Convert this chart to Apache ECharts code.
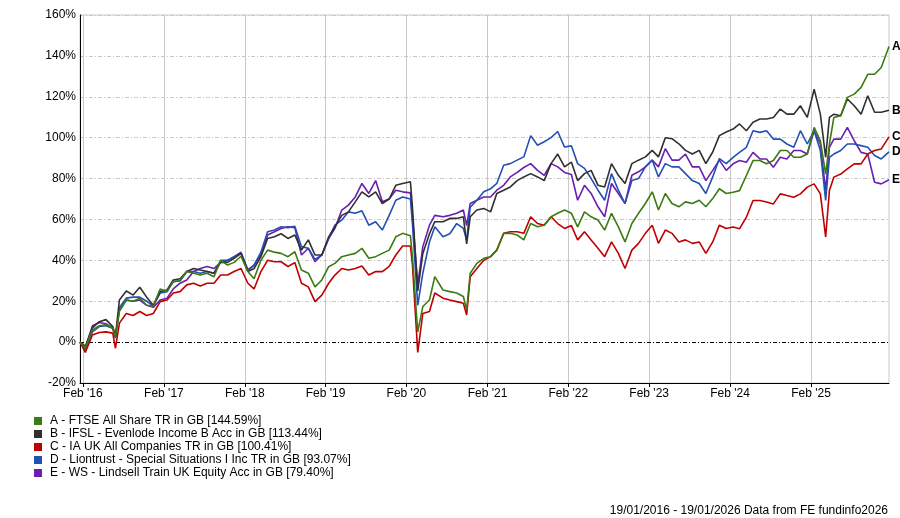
<!DOCTYPE html>
<html>
<head>
<meta charset="utf-8">
<script src="https://cdn.jsdelivr.net/npm/echarts@6/dist/echarts.min.js"></script>
<style>
html,body{margin:0;padding:0;background:#fff;}
#chart{width:900px;height:518px;}
</style>
</head>
<body>
<div id="chart"></div>
<script>
const dates = [
'2016-01-19','2016-02-12','2016-03-15','2016-04-15','2016-05-15','2016-06-15','2016-06-27','2016-07-15','2016-08-15','2016-09-15','2016-10-15','2016-11-15','2016-12-15',
'2017-01-15','2017-02-15','2017-03-15','2017-04-15','2017-05-15','2017-06-15','2017-07-15','2017-08-15','2017-09-15','2017-10-15','2017-11-15','2017-12-15',
'2018-01-15','2018-02-15','2018-03-15','2018-04-15','2018-05-15','2018-06-15','2018-07-15','2018-08-15','2018-09-15','2018-10-15','2018-11-15','2018-12-15',
'2019-01-15','2019-02-15','2019-03-15','2019-04-15','2019-05-15','2019-06-15','2019-07-15','2019-08-15','2019-09-15','2019-10-15','2019-11-15','2019-12-15',
'2020-01-15','2020-02-19','2020-02-28','2020-03-23','2020-04-15','2020-05-15','2020-06-08','2020-07-15','2020-08-15','2020-09-15','2020-10-15','2020-10-30','2020-11-15','2020-12-15',
'2021-01-15','2021-02-15','2021-03-15','2021-04-15','2021-05-15','2021-06-15','2021-07-15','2021-08-15','2021-09-15','2021-10-15','2021-11-15','2021-12-15',
'2022-01-15','2022-02-15','2022-03-15','2022-04-15','2022-05-15','2022-06-15','2022-07-15','2022-08-15','2022-09-15','2022-10-15','2022-11-15','2022-12-15',
'2023-01-15','2023-02-15','2023-03-15','2023-04-15','2023-05-15','2023-06-15','2023-07-15','2023-08-15','2023-09-15','2023-10-15','2023-11-15','2023-12-15',
'2024-01-15','2024-02-15','2024-03-15','2024-04-15','2024-05-15','2024-06-15','2024-07-15','2024-08-15','2024-09-15','2024-10-15','2024-11-15','2024-12-15',
'2025-01-15','2025-02-15','2025-03-15','2025-04-08','2025-04-25','2025-05-15','2025-06-15','2025-07-15','2025-08-15','2025-09-15','2025-10-15','2025-11-15','2025-12-15',
'2026-01-19'
];

// A - FTSE All Share TR
const seriesA = [
0,-3,6,8,8.5,6.8,2.7,15,20.6,20,21.5,18,17.7,
26,24.7,29.6,30,34.5,33.7,32.8,33.7,32,40,37.7,39,
42,34.5,31,40,45,44,43.4,41.8,44.2,35.3,33.7,27,
30.4,36.9,38.5,41.8,42.6,43.4,45.9,41,41.8,43.4,45,51.5,
53.2,52,42,5,17.4,20.6,32,25.5,24.7,24,22.3,15.8,33.7,38.5,
41,41.8,45,53.2,53.2,52.4,50,58,56.4,57.2,61.3,63,
64.6,63,56.4,63.7,61.3,59.7,54.8,63,56.4,49,58,63,
67.8,73.5,64.6,72.7,67.8,66.2,68.6,67.8,69.4,66.2,70.2,75,
72.7,73.3,74.1,81.5,88.8,88.8,87.2,88.8,93.7,93.7,90.4,90.4,
92,105,98.5,82.2,96.9,109.9,110.7,119.7,121.3,124.6,131,131,134.3,
144.59
];
// B - IFSL Evenlode Income B Acc
const seriesB = [
0,-2,7,10,11,7.6,3,20.6,25,23,26.8,22,18,
24.7,25.5,30.4,31,34.5,36,35.3,34.5,33.7,39,39,41,
43.4,34.5,36,41.8,50.7,51.5,53,50.7,52.4,45,50,42.6,
42.6,51.5,56.4,62,63.7,68.6,73.5,71,73.5,67.8,70,76.7,
77.6,78.4,66,25,43.4,53,58.9,58.9,60.5,60.5,61.3,48,61.3,64.6,
65.4,63.7,72.7,74.3,75.9,79,80.8,82.4,80.8,79,87.3,92,
85.7,88,79,82.4,84,76.7,75.9,87.3,81.6,77.6,87.3,89,
90.6,93.8,90.6,100,99.5,97,93.8,92,93.8,87.3,93,101,
102.8,104.2,106.7,103.4,107.5,109.1,109.1,109.9,114,111.5,111.5,115.6,
109.9,123.7,111.5,90.4,109.9,111.5,110.7,118.9,115.6,111.5,120.5,112.4,112.4,
113.44
];
// C - IA UK All Companies TR
const seriesC = [
0,-5,3.5,4.7,5,4.4,-3,9.3,14,13,15,13,14,
19.8,20.6,24,24.7,28,28.8,27.5,28.8,28.8,32.8,32.8,34.5,
36,28.8,26,34.5,40,39.3,39.3,37,38.9,28.8,27,19.8,
23,28.8,32.8,36,35.3,36,37.2,32.8,34.5,34.5,37,42.6,
47,47,38,-5,14,15,24,21.5,20.6,19.8,19,13.3,32,36,
40,41.8,45,53.2,54,54,53.2,61.3,58,57.2,61.3,58,
55.6,57,50,54,50,45.9,41.8,49,43.4,36,45,48.3,
53.2,57.2,48.3,54.8,53.2,49,50,48.3,49,43.4,49,57.2,
55.6,56.3,55.4,61.1,69.3,69.3,68.5,67.6,72.5,71.7,70.9,72.5,
75.8,77.4,72.5,51.4,74.1,80.7,82.2,84.7,87.2,87.2,92,93.7,94.5,
100.41
];
// D - Liontrust Special Situations I Inc TR
const seriesD = [
0,-4,5,7.6,8,6.8,2,17,21.5,22,22,20,17.7,
24,24.7,29.6,30,34.5,34.5,33.7,34.5,33.7,40,40,41.8,
44,35,37.7,44,54,54.8,56.4,56,56.7,46.7,45.9,40.5,
42.6,50.7,57.2,59.7,63.7,63,64.2,57.2,58.9,54.8,62,69.4,
71,70,58,18,33.7,49,56.4,51.5,53,58,55.6,50,66,69.4,
73.5,75,77.6,86.5,87.3,89,90.6,101,96.3,98,100,103,
95.4,96,87.3,85,80,74.3,69.4,82.4,74.3,67.8,79,80,
85.7,89,80.8,87.3,85.7,85.7,82.4,79,77.6,72.7,80.8,89.8,
87.3,90.4,92.8,95.3,103.4,102.6,103.4,99.3,99.3,96.9,95.3,103.4,
96.9,103.4,93.7,69.3,90.4,92,93.7,96.9,96.9,96.1,95.3,91.3,89.6,
93.07
];
// E - WS Lindsell Train UK Equity Acc
const seriesE = [
0,-3,8,9.6,9,6.8,2.5,15.8,20.6,20,20.6,18,17,
20.6,21.5,26,28.8,30.4,34.5,36,37,36,39,40,41.8,
43.4,35.5,37.7,42.6,52.4,54,55.6,56.4,56,42.6,45.9,39.3,
42.6,50.7,55.6,64.6,67,71,77.6,72.7,79,68.6,70,74.3,
73.5,73,62,28,46.7,57.2,62,61.3,62,63,64.6,57,67.8,69.4,
71,71,74.3,76.7,80.8,83,85.4,87.3,84,81.6,87.3,85.7,
83,82,69.4,76.7,72.7,66.2,61.3,77.6,72.7,67.8,81.6,83.3,
85.7,89,85.7,94.6,89,89,92,85.7,85.7,79,84,89,
84,87.2,88.8,88,92.8,89.6,89.6,85.5,90.4,89.6,93.7,93.7,
92,103.4,96.9,74.1,95.3,99.3,99.3,105,98.5,92.8,92,78.2,77.4,
79.40
];

const seriesNames = [
'A - FTSE All Share TR in GB [144.59%]',
'B - IFSL - Evenlode Income B Acc in GB [113.44%]',
'C - IA UK All Companies TR in GB [100.41%]',
'D - Liontrust - Special Situations I Inc TR in GB [93.07%]',
'E - WS - Lindsell Train UK Equity Acc in GB [79.40%]'
];
const endLetters = ['A','B','C','D','E'];
const seriesColors = ['#3d7a14','#303030','#c00000','#2450b4','#6a1fb0'];

const tickYears = [2016,2017,2018,2019,2020,2021,2022,2023,2024,2025];
const tickLabels = ["Feb '16","Feb '17","Feb '18","Feb '19","Feb '20","Feb '21","Feb '22","Feb '23","Feb '24","Feb '25"];
const rangeStart = '2016-01-19';
const rangeEnd = '2026-01-19';
const footerText = '19/01/2016 - 19/01/2026 Data from FE fundinfo2026';

function ts(s) { const p = s.split('-').map(Number); return Date.UTC(p[0], p[1] - 1, p[2]); }
const tickValues = tickYears.map(y => Date.UTC(y, 1, 1));
const allValues = [seriesA, seriesB, seriesC, seriesD, seriesE];
const FONT = 'Liberation Sans, Arial, sans-serif';

const chart = echarts.init(document.getElementById('chart'), null, {renderer:'canvas'});

const series = allValues.map((vals, i) => ({
  name: seriesNames[i],
  type: 'line',
  data: dates.map((d, j) => [ts(d), vals[j]]),
  showSymbol: false,
  symbol: 'none',
  z: 10 - i,
  lineStyle: {width: 1.6, color: seriesColors[i]},
  itemStyle: {color: seriesColors[i]},
  emphasis: {disabled: true},
  endLabel: {
    show: true,
    formatter: endLetters[i],
    color: '#000',
    fontWeight: 'bold',
    fontSize: 12,
    fontFamily: FONT,
    distance: 3
  },
  markLine: i === 0 ? {
    silent: true,
    symbol: 'none',
    label: {show: false},
    lineStyle: {color: '#000', type: [4,2,1,2], width: 1},
    data: [{yAxis: 0}],
    z: 1
  } : undefined
}));

chart.setOption({
  animation: false,
  backgroundColor: '#fff',
  title: {
    text: footerText,
    right: 12,
    top: 505,
    padding: 0,
    textStyle: {fontSize: 12, fontWeight: 'normal', color: '#000', fontFamily: FONT}
  },
  grid: {
    left: 80, right: 11, top: 15, bottom: 135,
    show: true, borderColor: '#c8c8c8', borderWidth: 1, backgroundColor: 'transparent'
  },
  legend: {
    orient: 'vertical',
    left: 29,
    top: 410,
    itemWidth: 8,
    itemHeight: 8,
    itemGap: 1,
    icon: 'rect',
    selectedMode: false,
    textStyle: {fontSize: 12, color: '#000', fontFamily: FONT, lineHeight: 12, padding: [0,0,0,3]},
    data: seriesNames.map((n, i) => ({name: n, itemStyle: {color: seriesColors[i]}}))
  },
  xAxis: {
    type: 'value',
    min: ts(rangeStart),
    max: ts(rangeEnd),
    axisLine: {show: true, onZero: false, lineStyle: {color: '#000', width: 1}},
    axisTick: {show: true, customValues: tickValues, length: 4, lineStyle: {color: '#000'}},
    axisLabel: {
      customValues: tickValues,
      formatter: function (v) {
        const idx = tickValues.indexOf(v);
        return idx >= 0 ? tickLabels[idx] : '';
      },
      color: '#000', fontSize: 12, fontFamily: FONT, margin: 5
    },
    splitLine: {show: true, lineStyle: {color: '#c8c8c8', width: 1, type: 'solid'}}
  },
  yAxis: {
    type: 'value',
    min: -20,
    max: 160,
    interval: 20,
    axisLine: {show: true, lineStyle: {color: '#000', width: 1}},
    axisTick: {show: false},
    axisLabel: {formatter: '{value}%', color: '#000', fontSize: 12, fontFamily: FONT, margin: 4},
    splitLine: {show: true, lineStyle: {color: '#c8c8c8', width: 1, type: [4,2,1,2]}}
  },
  series: series
});
</script>
</body>
</html>
